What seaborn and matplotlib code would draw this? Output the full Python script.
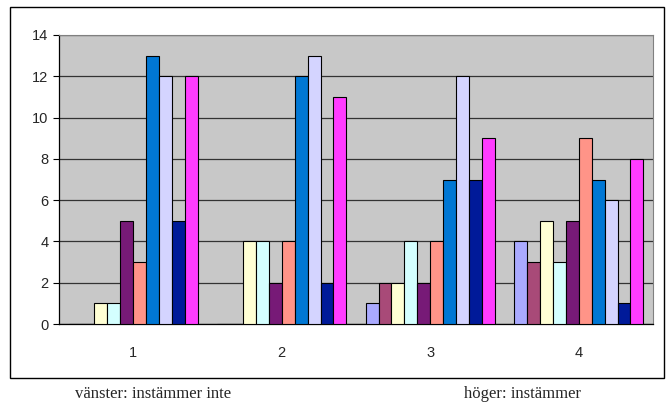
import numpy as np
import pandas as pd
import matplotlib
matplotlib.use('Agg')
import matplotlib.pyplot as plt
import seaborn as sns
from matplotlib.patches import Rectangle

# data
groups = ['1', '2', '3', '4']
series = ['s1', 's2', 's3', 's4', 's5', 's6', 's7', 's8', 's9', 's10']
g1 = [0, 0, 1, 1, 5, 3, 13, 12, 5, 12]
g2 = [0, 0, 4, 4, 2, 4, 12, 13, 2, 11]
g3 = [1, 2, 2, 4, 2, 4, 7, 12, 7, 9]
g4 = [4, 3, 5, 3, 5, 9, 7, 6, 1, 8]
colors = ['#AAAAFF', '#A84A78', '#FFFFD4', '#D4FFFF', '#771A77',
          '#FF9488', '#0077D4', '#D4D4FF', '#001A99', '#FF3CFF']

rows = []
for g, vals in zip(groups, [g1, g2, g3, g4]):
    for s, v in zip(series, vals):
        rows.append({'grupp': g, 'serie': s, 'antal': v})
df = pd.DataFrame(rows)

sns.set_style('white')
plt.rcParams['font.family'] = ['Liberation Sans', 'DejaVu Sans']

fig = plt.figure(figsize=(6.66, 4.17), dpi=100)
ax = fig.add_axes([59/666, 1-324/417, 594/666, 289/417])
ax.set_facecolor('#C8C8C8')

sns.barplot(data=df, x='grupp', y='antal', hue='serie', palette=colors,
            saturation=1, width=0.87, edgecolor='black', linewidth=0.8,
            legend=False, ax=ax, zorder=3)

ax.set_ylim(0, 14)
ax.set_xlim(-0.5, 3.5)
ax.set_yticks(np.arange(0, 15, 2))
ax.yaxis.grid(True, color='#333333', linewidth=0.9, zorder=1)
ax.set_axisbelow(True)
ax.set_xlabel('')
ax.set_ylabel('')

ax.set_xticks(range(4))
ax.set_xticklabels(groups)
ax.set_xticks([-0.5, 0.5, 1.5, 2.5, 3.5], minor=True)
ax.tick_params(axis='x', which='major', length=0, pad=16, labelsize=10.5)
ax.tick_params(axis='x', which='minor', length=4, color='black', direction='out')
ax.tick_params(axis='y', length=4, color='black', direction='out', labelsize=10.5, left=True)

for side in ['top', 'right']:
    ax.spines[side].set_color('#808080')
for side in ['left', 'bottom']:
    ax.spines[side].set_color('black')
    ax.spines[side].set_linewidth(0.9)

# outer chart frame
fig.patches.append(Rectangle((10/666, 1-378/417), 654/666, 371/417,
                             transform=fig.transFigure, fill=False,
                             edgecolor='black', linewidth=1))

fig.text(153/666, 1-394/417, 'vänster: instämmer inte', ha='center', va='center',
         fontsize=12, family=['Liberation Serif', 'DejaVu Serif'])
fig.text(523/666, 1-394/417, 'höger: instämmer', ha='center', va='center',
         fontsize=12, family=['Liberation Serif', 'DejaVu Serif'])

fig.savefig('out.png', dpi=100)
